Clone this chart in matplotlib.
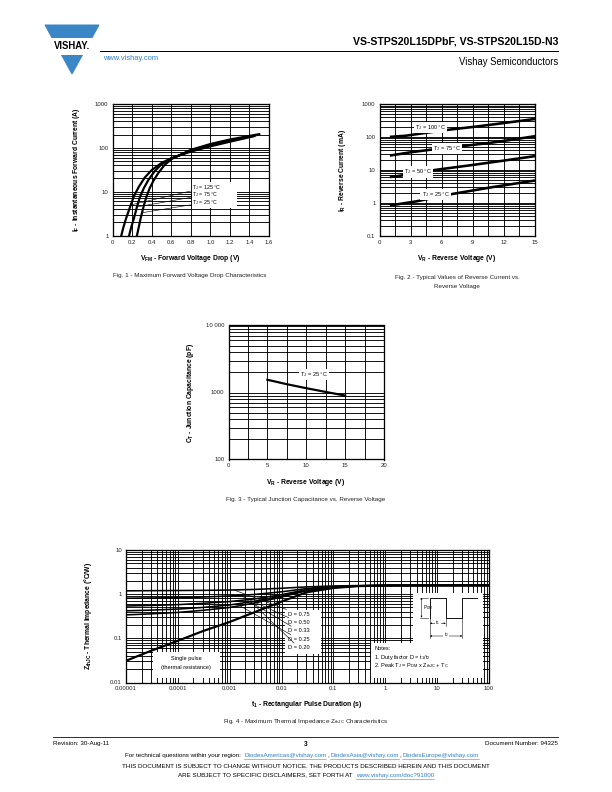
import matplotlib
matplotlib.use('Agg')
import matplotlib.pyplot as plt
import numpy as np
from matplotlib.ticker import FixedLocator, MultipleLocator, NullFormatter, LogLocator
from matplotlib.patches import Polygon, Rectangle
from matplotlib.lines import Line2D

plt.rcParams['font.family'] = ['Liberation Sans', 'DejaVu Sans']
plt.rcParams['mathtext.fontset'] = 'custom'
plt.rcParams['mathtext.rm'] = 'Liberation Sans'
plt.rcParams['mathtext.it'] = 'Liberation Sans:italic'
plt.rcParams['mathtext.bf'] = 'Liberation Sans:bold'

# ---- data ----
# Fig. 1 forward characteristics (V, A)
vf_125 = [0.09, 0.11, 0.14, 0.18, 0.22, 0.27, 0.33, 0.40, 0.50, 0.60, 0.80, 1.00, 1.20, 1.45]
if_125 = [1.0, 1.5, 2.5, 4.5, 8.0, 13, 21, 31, 45, 58, 82, 108, 138, 185]
vf_75 = [0.17, 0.19, 0.22, 0.25, 0.28, 0.32, 0.37, 0.43, 0.50, 0.60, 0.80, 1.00, 1.20, 1.47]
if_75 = [1.0, 1.5, 2.5, 4.5, 7.5, 12, 19, 29, 42, 57, 86, 114, 145, 195]
vf_25 = [0.25, 0.27, 0.29, 0.32, 0.35, 0.38, 0.42, 0.47, 0.53, 0.60, 0.80, 1.00, 1.20, 1.50]
if_25 = [1.0, 1.6, 2.6, 4.8, 8.0, 12, 18, 27, 40, 55, 90, 122, 155, 205]
fig1_xticks = [0, 0.2, 0.4, 0.6, 0.8, 1.0, 1.2, 1.4, 1.6]
fig1_xlabels = ['0', '0.2', '0.4', '0.6', '0.8', '1.0', '1.2', '1.4', '1.6']

# Fig. 2 reverse current (V, mA)
vr_100 = [1, 2.5, 5, 7, 9, 11, 13, 15]
ir_100 = [100, 108, 140, 170, 200, 240, 290, 350]
vr_75 = [1, 3, 5, 7, 9, 11, 13, 15]
ir_75 = [27, 34, 41, 48, 57, 68, 84, 105]
vr_50 = [1, 2, 5.5, 9, 12, 15]
ir_50 = [6.0, 6.6, 10, 14, 19, 26]
vr_25 = [1, 3.6, 7.1, 11, 15]
ir_25 = [0.82, 1.1, 1.85, 3.0, 4.7]

# Fig. 3 junction capacitance (V, pF)
vr_ct = [5, 7.5, 10, 12.5, 15]
ct = [1550, 1330, 1160, 1020, 900]

# Fig. 4 thermal impedance (s, degC/W)
t_pulse = [1e-5, 3e-5, 1e-4, 3e-4, 1e-3, 3e-3, 1e-2, 3e-2, 0.1, 0.3, 1, 10, 100]
z_single = [0.031, 0.052, 0.088, 0.145, 0.235, 0.39, 0.68, 1.1, 1.38, 1.52, 1.57, 1.58, 1.58]
z_d75 = [1.19, 1.20, 1.21, 1.22, 1.24, 1.28, 1.36, 1.46, 1.53, 1.565, 1.578, 1.58, 1.58]
z_d50 = [0.81, 0.82, 0.83, 0.86, 0.91, 0.985, 1.13, 1.34, 1.48, 1.55, 1.575, 1.58, 1.58]
z_d33 = [0.54, 0.555, 0.58, 0.62, 0.68, 0.78, 0.975, 1.26, 1.445, 1.54, 1.57, 1.58, 1.58]
z_d25 = [0.42, 0.435, 0.46, 0.50, 0.57, 0.69, 0.905, 1.22, 1.43, 1.535, 1.57, 1.58, 1.58]
z_d20 = [0.34, 0.358, 0.386, 0.43, 0.50, 0.63, 0.86, 1.2, 1.42, 1.53, 1.57, 1.58, 1.58]
duty_labels = ['D = 0.75', 'D = 0.50', 'D = 0.33', 'D = 0.25', 'D = 0.20']
fig4_xticks = [1e-5, 1e-4, 1e-3, 1e-2, 0.1, 1, 10, 100]
fig4_xlabels = ['0.00001', '0.0001', '0.001', '0.01', '0.1', '1', '10', '100']

BLUE = '#2f7fc9'
TICK = 6
LAB = 6.8
CAP = 6.3
W, H = 612, 792
fig = plt.figure(figsize=(W / 72, H / 72), dpi=72)


def px_axes(l, t, r, b):
    ax = fig.add_axes([l / W, 1 - b / H, (r - l) / W, (b - t) / H])
    ax._px = (l, t, r, b)
    return ax


def ftext(x, y, s, **kw):
    return fig.text(x / W, 1 - y / H, s, **kw)


def afrac(ax, x, y):
    l, t, r, b = ax._px
    return (x - l) / (r - l), (b - y) / (b - t)


def style(ax):
    ax.tick_params(which='both', length=0, labelsize=TICK, pad=4, colors='#222')
    ax.grid(which='both', color='k', lw=0.9)
    ax.set_axisbelow(True)
    for s in ax.spines.values():
        s.set_linewidth(1.3)


def logy(ax):
    ax.set_yscale('log')
    ax.yaxis.set_minor_locator(LogLocator(base=10, subs=np.arange(2, 10)))
    ax.yaxis.set_minor_formatter(NullFormatter())


# ---------------- header ----------------
fig.patches.append(Polygon([(45 / W, 1 - 25 / H), (99 / W, 1 - 25 / H), (72 / W, 1 - 74 / H)],
                           closed=True, transform=fig.transFigure, color='#3b86c6'))
fig.patches.append(Rectangle((40 / W, 1 - 54 / H), 64 / W, 16 / H, transform=fig.transFigure,
                             color='white'))
ftext(72, 46, 'VISHAY.', fontsize=9.5, fontweight='bold', ha='center', va='center')
fig.lines.append(Line2D([100 / W, 558 / W], [1 - 51 / H, 1 - 51 / H], color='k', lw=1,
                        transform=fig.transFigure))
ftext(558, 41, 'VS-STPS20L15DPbF, VS-STPS20L15D-N3', fontsize=10.5, fontweight='bold',
      ha='right', va='center')
ftext(103, 58, 'www.vishay.com', fontsize=7.5, color=BLUE, va='center')
ftext(558, 62, 'Vishay Semiconductors', fontsize=9.5, ha='right', va='center')

# ---------------- Fig. 1 ----------------
ax1 = px_axes(112.5, 104, 269, 235.5)
logy(ax1)
for v, i in [(vf_125, if_125), (vf_75, if_75), (vf_25, if_25)]:
    ax1.plot(v, i, color='k', lw=2.2, zorder=3)
ax1.set_xlim(0, 1.6)
ax1.set_ylim(1, 1000)
ax1.xaxis.set_major_locator(FixedLocator(fig1_xticks))
ax1.set_xticklabels(fig1_xlabels)
ax1.set_yticks([1, 10, 100, 1000])
ax1.set_yticklabels(['1', '10', '100', '1000'])
style(ax1)
bx = afrac(ax1, 191.5, 207)
ax1.add_patch(Rectangle(bx, (236 - 191.5) / 156.5, 25 / 131.5, transform=ax1.transAxes,
                        color='white', zorder=4))
for lab, ly, tgt in [('125', 187.2, (0.19, 5.0)), ('75', 194.8, (0.25, 4.5)), ('25', 202.4, (0.30, 3.3))]:
    p = afrac(ax1, 192.5, ly)
    ax1.annotate('T$_\\mathregular{J}$ = ' + lab + ' °C', xy=tgt, xytext=p, textcoords='axes fraction',
                 fontsize=5.2, va='center', ha='left', zorder=5,
                 arrowprops=dict(arrowstyle='-', lw=0.6, color='k', shrinkA=0, shrinkB=0))
ftext(190, 259, 'V$_\\mathregular{FM}$ - Forward Voltage Drop (V)', fontsize=LAB, fontweight='bold',
      ha='center', va='center')
ftext(77, 170, 'I$_\\mathregular{F}$ - Instantaneous Forward Current (A)', fontsize=LAB,
      fontweight='bold', ha='center', va='center', rotation=90)
ftext(190, 276, 'Fig. 1 - Maximum Forward Voltage Drop Characteristics', fontsize=CAP, ha='center',
      va='center', color='#222')

# ---------------- Fig. 2 ----------------
ax2 = px_axes(379.5, 104, 535, 235.5)
logy(ax2)
for v, i in [(vr_100, ir_100), (vr_75, ir_75), (vr_50, ir_50), (vr_25, ir_25)]:
    ax2.plot(v, i, color='k', lw=2.6, zorder=3, solid_capstyle='butt')
ax2.set_xlim(0, 15)
ax2.set_ylim(0.1, 1000)
ax2.set_xticks([0, 3, 6, 9, 12, 15])
ax2.xaxis.set_minor_locator(MultipleLocator(1.5))
ax2.set_yticks([0.1, 1, 10, 100, 1000])
ax2.set_yticklabels(['0.1', '1', '10', '100', '1000'])
style(ax2)
for lab, xy in [('100', (4.9, 190)), ('75', (6.5, 44)), ('50', (3.7, 8.6)), ('25', (5.4, 1.75))]:
    ax2.text(xy[0], xy[1], 'T$_\\mathregular{J}$ = ' + lab + ' °C', fontsize=5.6, ha='center',
             va='center', zorder=5, bbox=dict(facecolor='white', edgecolor='none', pad=1.2))
ftext(457, 259, 'V$_\\mathregular{R}$ - Reverse Voltage (V)', fontsize=LAB, fontweight='bold',
      ha='center', va='center')
ftext(343, 170, 'I$_\\mathregular{R}$ - Reverse Current (mA)', fontsize=LAB, fontweight='bold',
      ha='center', va='center', rotation=90)
ftext(457, 277, 'Fig. 2 - Typical Values of Reverse Current vs.', fontsize=CAP, ha='center',
      va='center', color='#222')
ftext(457, 286, 'Reverse Voltage', fontsize=CAP, ha='center', va='center', color='#222')

# ---------------- Fig. 3 ----------------
ax3 = px_axes(228.5, 325.5, 384, 459.5)
logy(ax3)
ax3.plot(vr_ct, ct, color='k', lw=2.2, zorder=3)
ax3.set_xlim(0, 20)
ax3.set_ylim(100, 10000)
ax3.set_xticks([0, 5, 10, 15, 20])
ax3.xaxis.set_minor_locator(MultipleLocator(2.5))
ax3.set_yticks([100, 1000, 10000])
ax3.set_yticklabels(['100', '1000', '10 000'])
style(ax3)
ax3.text(11, 1840, 'T$_\\mathregular{J}$ = 25 °C', fontsize=5.6, ha='center', va='center', zorder=5,
         bbox=dict(facecolor='white', edgecolor='none', pad=1.2))
ftext(306, 482, 'V$_\\mathregular{R}$ - Reverse Voltage (V)', fontsize=LAB, fontweight='bold',
      ha='center', va='center')
ftext(190, 393, 'C$_\\mathregular{T}$ - Junction Capacitance (pF)', fontsize=LAB, fontweight='bold',
      ha='center', va='center', rotation=90)
ftext(306, 500, 'Fig. 3 - Typical Junction Capacitance vs. Reverse Voltage', fontsize=CAP,
      ha='center', va='center', color='#222')

# ---------------- Fig. 4 ----------------
ax4 = px_axes(126, 550, 489, 682.5)
ax4.set_xscale('log')
logy(ax4)
ax4.xaxis.set_minor_locator(LogLocator(base=10, subs=np.arange(2, 10)))
ax4.xaxis.set_minor_formatter(NullFormatter())
for z in [z_d75, z_d50, z_d33, z_d25, z_d20]:
    ax4.plot(t_pulse, z, color='k', lw=1.6, zorder=3)
ax4.plot(t_pulse, z_single, color='k', lw=2.2, zorder=3)
ax4.set_xlim(1e-5, 100)
ax4.set_ylim(0.01, 10)
ax4.xaxis.set_major_locator(FixedLocator(fig4_xticks))
ax4.set_xticklabels(fig4_xlabels)
ax4.set_yticks([0.01, 0.1, 1, 10])
ax4.set_yticklabels(['0.01', '0.1', '1', '10'])
style(ax4)


def abox(ax, l, t, r, b):
    x0, y0 = afrac(ax, l, b)
    x1, y1 = afrac(ax, r, t)
    ax.add_patch(Rectangle((x0, y0), x1 - x0, y1 - y0, transform=ax.transAxes, color='white',
                           zorder=4))


# duty labels
abox(ax4, 285, 610, 320, 653)
targets = [(1.2e-3, 1.245), (1.6e-3, 0.93), (2.2e-3, 0.73), (1.4e-3, 0.59), (2.8e-3, 0.61)]
for k, (lab, tgt) in enumerate(zip(duty_labels, targets)):
    p = afrac(ax4, 288, 614 + k * 8.4)
    ax4.annotate(lab, xy=tgt, xytext=p, textcoords='axes fraction', fontsize=5.6, va='center',
                 ha='left', zorder=5,
                 arrowprops=dict(arrowstyle='-', lw=0.6, color='k', shrinkA=0, shrinkB=0))

# single pulse label
abox(ax4, 153, 651.5, 218.5, 677)
ax4.text(*afrac(ax4, 186, 658.5), 'Single pulse', fontsize=5.6, ha='center', va='center', zorder=5,
         transform=ax4.transAxes)
ax4.text(*afrac(ax4, 186, 667), '(thermal resistance)', fontsize=5.6, ha='center', va='center',
         zorder=5, transform=ax4.transAxes)

# waveform + notes boxes
abox(ax4, 413, 593, 482, 643.5)
abox(ax4, 371, 643, 482, 677)


def aline(ax, pts, lw=0.8, **kw):
    xs, ys = zip(*[afrac(ax, x, y) for x, y in pts])
    ax.add_line(Line2D(xs, ys, transform=ax.transAxes, color='k', lw=lw, zorder=5, **kw))


aline(ax4, [(430, 617.7), (430, 597.7), (445.7, 597.7), (445.7, 617.7), (462.3, 617.7),
            (462.3, 597.7), (476.7, 597.7)], lw=0.9)
aline(ax4, [(430, 617.7), (430, 638.3)], lw=0.5)
aline(ax4, [(445.7, 617.7), (445.7, 625.5)], lw=0.5)
aline(ax4, [(462.3, 617.7), (462.3, 638.3)], lw=0.5)
aline(ax4, [(419.5, 597.7), (428, 597.7)], lw=0.5)
aline(ax4, [(419.5, 617.7), (428, 617.7)], lw=0.5)
for (x0, y0), (x1, y1) in [((421.5, 597.7), (421.5, 617.7)), ((430, 623.3), (445.7, 623.3)),
                           ((430, 636), (462.3, 636))]:
    ax4.annotate('', xy=afrac(ax4, x1, y1), xytext=afrac(ax4, x0, y0), xycoords='axes fraction',
                 textcoords='axes fraction', zorder=6,
                 arrowprops=dict(arrowstyle='<|-|>', lw=0.5, color='k', mutation_scale=3,
                                 shrinkA=0, shrinkB=0))
ax4.text(*afrac(ax4, 423, 607.5), 'P$_\\mathregular{DM}$', fontsize=4.5, ha='left', va='center',
         zorder=6, transform=ax4.transAxes)
ax4.text(*afrac(ax4, 437.8, 622.3), 't$_\\mathregular{1}$', fontsize=4.5, ha='center', va='center',
         zorder=6, transform=ax4.transAxes, bbox=dict(facecolor='white', edgecolor='none', pad=0.3))
ax4.text(*afrac(ax4, 446, 635), 't$_\\mathregular{2}$', fontsize=4.5, ha='center', va='center',
         zorder=6, transform=ax4.transAxes, bbox=dict(facecolor='white', edgecolor='none', pad=0.3))
ax4.text(*afrac(ax4, 374, 648.5), 'Notes:', fontsize=5.6, ha='left', va='center', zorder=6,
         transform=ax4.transAxes)
ax4.text(*afrac(ax4, 374, 657.5), '1. Duty factor D = t$_\\mathregular{1}$/t$_\\mathregular{2}$',
         fontsize=5.6, ha='left', va='center', zorder=6, transform=ax4.transAxes)
ax4.text(*afrac(ax4, 374, 665.5),
         '2. Peak T$_\\mathregular{J}$ = P$_\\mathregular{DM}$ x Z$_\\mathregular{thJC}$ + T$_\\mathregular{C}$',
         fontsize=5.6, ha='left', va='center', zorder=6, transform=ax4.transAxes)

ftext(307, 704, 't$_\\mathregular{1}$ - Rectangular Pulse Duration (s)', fontsize=LAB,
      fontweight='bold', ha='center', va='center')
ftext(88, 616, 'Z$_\\mathregular{thJC}$ - Thermal Impedance (°C/W)', fontsize=LAB, fontweight='bold',
      ha='center', va='center', rotation=90)
ftext(306, 722, 'Fig. 4 - Maximum Thermal Impedance Z$_\\mathregular{thJC}$ Characteristics',
      fontsize=CAP, ha='center', va='center', color='#222')

# ---------------- footer ----------------
fig.lines.append(Line2D([53 / W, 558 / W], [1 - 737 / H, 1 - 737 / H], color='k', lw=0.8,
                        transform=fig.transFigure))
ftext(53, 743.5, 'Revision: 30-Aug-11', fontsize=6.2, va='center')
ftext(306, 744, '3', fontsize=6.5, fontweight='bold', ha='center', va='center')
ftext(558, 743.5, 'Document Number: 94325', fontsize=6.2, ha='right', va='center')

renderer = fig.canvas.get_renderer()


def seq_text(y, parts, size, xc=306, gap=3):
    objs = [ftext(0, y, s, fontsize=size, color=c, va='center') for s, c in parts]
    widths = [o.get_window_extent(renderer).width for o in objs]
    x = xc - (sum(widths) + gap * (len(parts) - 1)) / 2
    for o, w, (s, c) in zip(objs, widths, parts):
        o.set_x(x / W)
        if c == BLUE:
            fig.lines.append(Line2D([x / W, (x + w) / W], [1 - (y + 3.6) / H] * 2, color=BLUE,
                                    lw=0.5, transform=fig.transFigure))
        x += w + (1 if s == ',' or (c == BLUE and parts.index((s, c)) + 1 < len(parts)
                                    and parts[parts.index((s, c)) + 1][0] == ',') else gap)


seq_text(755.5, [('For technical questions within your region:', 'k'),
                 ('DiodesAmericas@vishay.com', BLUE), (',', 'k'),
                 ('DiodesAsia@vishay.com', BLUE), (',', 'k'),
                 ('DiodesEurope@vishay.com', BLUE)], 6.2)
ftext(306, 766, 'THIS DOCUMENT IS SUBJECT TO CHANGE WITHOUT NOTICE. THE PRODUCTS DESCRIBED HEREIN '
      'AND THIS DOCUMENT', fontsize=6.2, ha='center', va='center')
seq_text(775, [('ARE SUBJECT TO SPECIFIC DISCLAIMERS, SET FORTH AT', 'k'),
               ('www.vishay.com/doc?91000', BLUE)], 6.2)

fig.savefig('out.png', dpi=72)
